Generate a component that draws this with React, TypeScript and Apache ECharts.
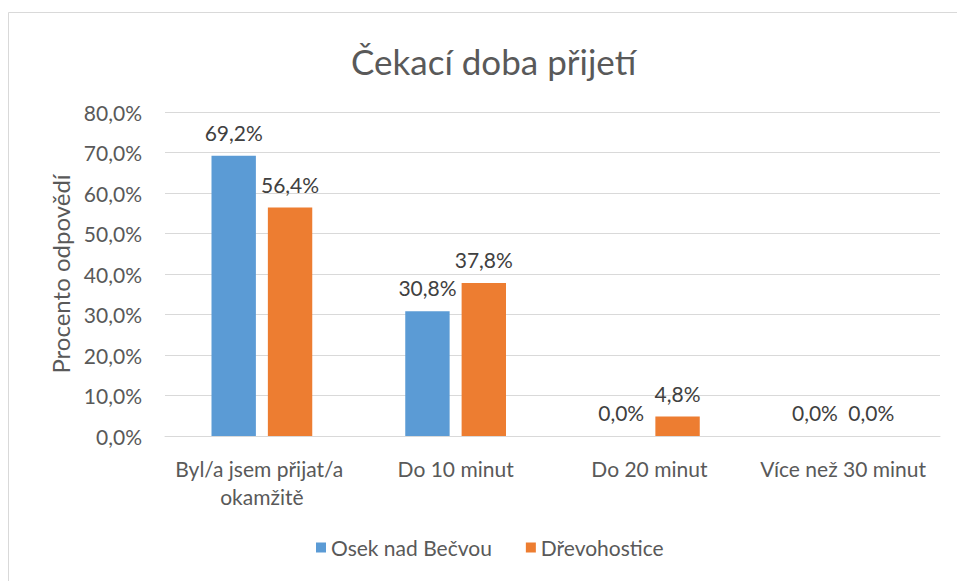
import React, { useEffect, useRef } from "react";
import * as echarts from "echarts";

const categories = ["Byl/a jsem přijat/a okamžitě", "Do 10 minut", "Do 20 minut", "Více než 30 minut"];
const osekValues = [69.2, 30.8, 0.0, 0.0];
const drevoValues = [56.4, 37.8, 4.8, 0.0];
const seriesNames = ["Osek nad Bečvou", "Dřevohostice"];
const titleText = "Čekací doba přijetí";
const yAxisName = "Procento odpovědí";

const FONT = "Lato";
const fmt = (v: number) => v.toFixed(1).replace(".", ",") + "%";

export default function App() {
  const ref = useRef<HTMLDivElement>(null);
  useEffect(() => {
    if (!ref.current) return;
    const chart = echarts.init(ref.current, undefined, { renderer: "svg" });
    const label = {
      show: true,
      position: "top",
      distance: 13,
      fontFamily: FONT,
      fontSize: 21,
      color: "#404040",
      formatter: (p: any) => fmt(p.value),
    };
    chart.setOption({
      animation: false,
      backgroundColor: "#ffffff",
      textStyle: { fontFamily: FONT },
      title: {
        text: titleText,
        left: 346,
        top: 38,
        textStyle: { fontFamily: FONT, fontSize: 35, fontWeight: "normal", color: "#595959" },
      },
      graphic: [
        {
          type: "rect",
          shape: { x: 8.5, y: 12.5, width: 980, height: 620 },
          style: { fill: "none", stroke: "#d9d9d9", lineWidth: 1 },
          silent: true,
        },
      ],
      legend: {
        bottom: 18,
        left: 311,
        itemWidth: 10,
        itemHeight: 10,
        itemGap: 34,
        icon: "rect",
        textStyle: { fontFamily: FONT, fontSize: 21, color: "#595959" },
        data: seriesNames,
      },
      grid: { left: 165, right: 17, top: 112, bottom: 145, containLabel: false, outerBoundsMode: "none" },
      xAxis: {
        type: "category",
        data: categories,
        axisTick: { show: false },
        axisLine: { lineStyle: { color: "#d9d9d9", width: 1 } },
        axisLabel: {
          fontFamily: FONT,
          fontSize: 21,
          color: "#595959",
          margin: 18,
          width: 210,
          overflow: "break",
          lineHeight: 28,
          interval: 0,
        },
      },
      yAxis: {
        type: "value",
        min: 0,
        max: 80,
        interval: 10,
        name: yAxisName,
        nameLocation: "middle",
        nameGap: 91,
        nameTextStyle: { fontFamily: FONT, fontSize: 24, color: "#595959" },
        axisLine: { show: false },
        axisTick: { show: false },
        splitLine: { lineStyle: { color: "#d9d9d9", width: 1 } },
        axisLabel: {
          fontFamily: FONT,
          fontSize: 21,
          color: "#595959",
          margin: 23,
          formatter: (v: number) => fmt(v),
        },
      },
      series: [
        {
          name: seriesNames[0],
          type: "bar",
          data: osekValues,
          itemStyle: { color: "#5B9BD5" },
          barGap: "27%",
          barCategoryGap: "48%",
          label,
        },
        {
          name: seriesNames[1],
          type: "bar",
          data: drevoValues,
          itemStyle: { color: "#ED7D31" },
          barGap: "27%",
          barCategoryGap: "48%",
          label,
        },
      ],
    });
    return () => chart.dispose();
  }, []);
  return (
    <div
      ref={ref}
      style={{ position: "fixed", left: 0, top: 0, width: 957, height: 581 }}
    />
  );
}
